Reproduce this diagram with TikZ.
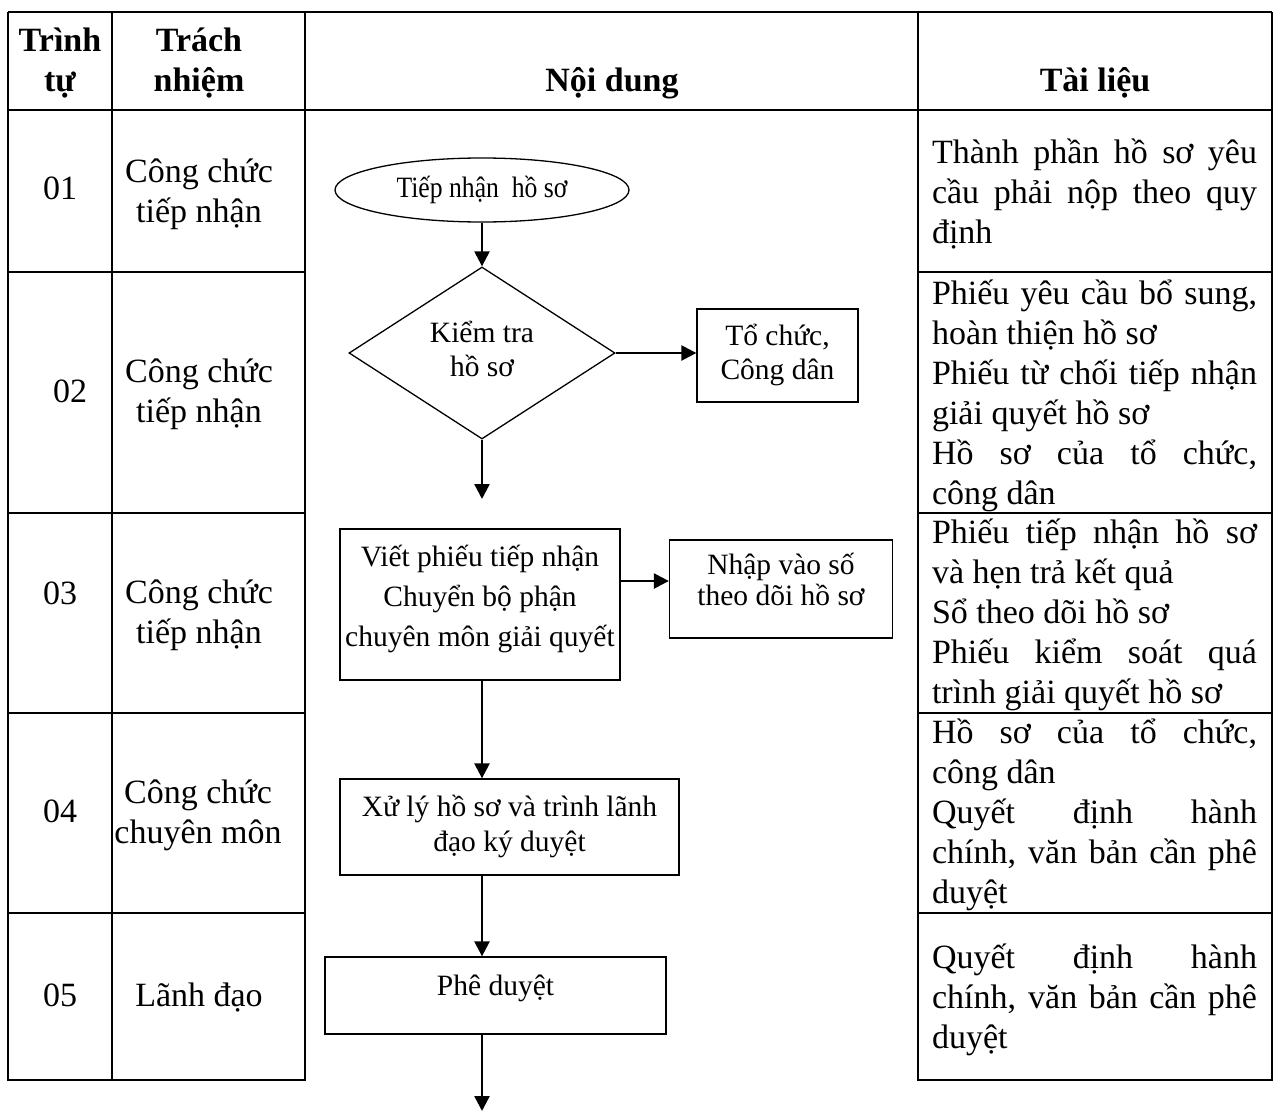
\documentclass[tikz,border=0pt]{standalone}
\usepackage{fontspec}
\setmainfont{Liberation Serif}
\newfontfamily\condfont[FakeStretch=0.87]{Liberation Serif}
\usetikzlibrary{arrows.meta,shapes.geometric}
\setlength{\parindent}{0pt}
\setlength{\parskip}{0pt}
\hyphenpenalty=10000
\tolerance=10000
\newcommand\bodyfont{\fontsize{34}{40}\selectfont\lineskiplimit=-60pt\relax}
\newcommand\fcfont[1]{\fontsize{29.5}{#1}\selectfont\lineskiplimit=-60pt\relax}
\tikzset{
  tbl/.style={line width=2pt},
  hdr/.style={font=\bfseries\bodyfont, inner sep=0pt, align=center},
  cell/.style={font=\bodyfont, inner sep=0pt, align=center},
  docs/.style={font=\bodyfont, inner sep=0pt, text width=325pt, align=justify},
  fcbox/.style={draw, line width=1.3pt, inner sep=0pt, align=center},
  arr/.style={line width=2.4pt, -{Triangle[length=15pt,width=15pt]}},
}
\begin{document}
\begin{tikzpicture}[x=1pt,y=-1pt]
\useasboundingbox (0,0) rectangle (1279,1113);
% ---------- table ----------
\draw[tbl] (8,12) -- (1272,12);
\draw[tbl] (8,110) -- (1272,110);
\draw[tbl] (8,12) -- (8,1080) -- (305,1080) -- (305,12);
\draw[tbl] (112,12) -- (112,1080);
\draw[tbl] (918,12) -- (918,1080) -- (1272,1080) -- (1272,12);
\foreach \yy in {272,513,713,913}{
  \draw[tbl] (8,\yy) -- (305,\yy);
  \draw[tbl] (918,\yy) -- (1272,\yy);
}
% ---------- headers ----------
\node[hdr] (h1) at (60,64) {\strut Trình\\tự\strut};
\node[hdr] (h2) at (199,64) {\strut Trách\\nhiệm\strut};
\node[hdr] (h3) at (612,84) {\strut Nội dung};
\node[hdr] (h4) at (1095,84) {\strut Tài liệu};
% ---------- left columns ----------
\node[cell] (s1) at (60,191) {\strut 01};
\node[cell] (s2) at (70,394) {\strut 02};
\node[cell] (s3) at (60,596) {\strut 03};
\node[cell] (s4) at (60,814) {\strut 04};
\node[cell] (s5) at (60,998) {\strut 05};
\node[cell] (p1) at (199,194) {\strut Công chức\\tiếp nhận\strut};
\node[cell] (p2) at (199,394) {\strut Công chức\\tiếp nhận\strut};
\node[cell] (p3) at (199,615) {\strut Công chức\\tiếp nhận\strut};
\node[cell] (p4) at (198,815) {\strut Công chức\\chuyên môn\strut};
\node[cell] (p5) at (199,998) {\strut Lãnh đạo};
% ---------- documents ----------
\node[docs] (d1) at (1094.5,195) {\strut Thành phần hồ sơ yêu\linebreak cầu phải nộp theo quy\linebreak định\strut};
\node[docs] (d2) at (1094.5,396) {\strut Phiếu yêu cầu bổ sung,\linebreak hoàn thiện hồ sơ\par Phiếu từ chối tiếp nhận\linebreak giải quyết hồ sơ\par Hồ sơ của tổ chức,\linebreak công dân\strut};
\node[docs] (d3) at (1094.5,615) {\strut Phiếu tiếp nhận hồ sơ\linebreak và hẹn trả kết quả\par Sổ theo dõi hồ sơ\par Phiếu kiểm soát quá\linebreak trình giải quyết hồ sơ\strut};
\node[docs] (d4) at (1094.5,815) {\strut Hồ sơ của tổ chức,\linebreak công dân\par Quyết định hành\linebreak chính, văn bản cần phê\linebreak duyệt\strut};
\node[docs] (d5) at (1094.5,1000) {\strut Quyết định hành\linebreak chính, văn bản cần phê\linebreak duyệt\strut};
% ---------- flowchart ----------
\node[fcbox, ellipse, minimum width=294pt, minimum height=64pt, font=\condfont\fcfont{35}] (n1) at (482,190) {\strut Tiếp nhận\ \ hồ sơ};
\node[fcbox, diamond, minimum width=266pt, minimum height=150pt, font=\fcfont{34}] (n2) at (482,353) {\strut Kiểm tra\\hồ sơ\strut};
\node[fcbox, minimum width=161pt, minimum height=93pt, font=\fcfont{34}] (n3) at (777.5,355.5) {\strut Tổ chức,\\Công dân\strut};
\coordinate (e1) at (482,499);
\node[fcbox, minimum width=280pt, minimum height=151pt, font=\fcfont{40}] (n4) at (480,604.5) {\strut Viết phiếu tiếp nhận\\Chuyển bộ phận\\chuyên môn giải quyết\strut\rule[-24pt]{0pt}{0pt}};
\node[fcbox, minimum width=223pt, minimum height=98pt, font=\fcfont{31}] (n5) at (781,589) {\strut Nhập vào số\\theo dõi hồ sơ\strut\rule[-19pt]{0pt}{0pt}};
\node[fcbox, minimum width=339pt, minimum height=96pt, font=\fcfont{35}] (n6) at (509.5,827) {\strut Xử lý hồ sơ và trình lãnh\\đạo ký duyệt\strut};
\node[fcbox, minimum width=341pt, minimum height=77pt, font=\fcfont{35}] (n7) at (495.5,995.5) {\strut Phê duyệt\rule[-25pt]{0pt}{0pt}};
\coordinate (e2) at (482,1111);
% ---------- connectors ----------
\draw[arr] (n1.south) -- (n2.north);
\draw[arr] (n2.east) -- (n2.east -| n3.west);
\draw[arr] (n2.south) -- (e1);
\draw[arr] ([yshift=23.5pt]n4.east) -- ([yshift=23.5pt]n4.east -| n5.west);
\draw[arr] (n4.south -| n1.south) -- (n6.north -| n1.south);
\draw[arr] (n6.south -| n1.south) -- (n7.north -| n1.south);
\draw[arr] (n7.south -| n1.south) -- (e2);
\end{tikzpicture}
\end{document}
